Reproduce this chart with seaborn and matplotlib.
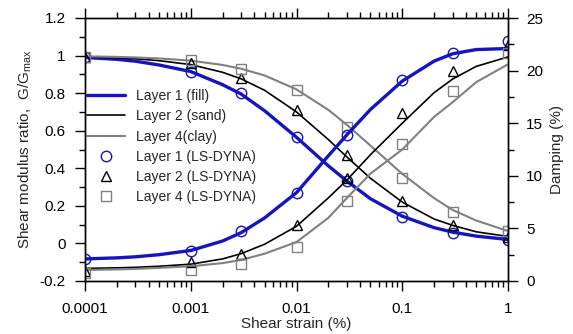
import numpy as np
import pandas as pd
import matplotlib
matplotlib.use('Agg')
import matplotlib.pyplot as plt
import matplotlib.ticker as mticker
import seaborn as sns

# fitted curves
strain_curve = [1e-4, 2e-4, 3e-4, 5e-4, 1e-3, 2e-3, 3e-3, 5e-3, 1e-2, 2e-2, 3e-2, 5e-2, 0.1, 0.2, 0.3, 0.5, 1]
g_layer1 = [0.990, 0.980, 0.970, 0.950, 0.915, 0.845, 0.795, 0.706, 0.565, 0.413, 0.332, 0.238, 0.145, 0.084, 0.060, 0.039, 0.021]
g_layer2 = [0.994, 0.988, 0.983, 0.973, 0.952, 0.911, 0.876, 0.815, 0.700, 0.553, 0.460, 0.347, 0.220, 0.130, 0.096, 0.062, 0.037]
g_layer4 = [0.996, 0.993, 0.990, 0.985, 0.973, 0.950, 0.930, 0.894, 0.820, 0.711, 0.631, 0.521, 0.370, 0.241, 0.178, 0.122, 0.066]
d_layer1 = [2.1, 2.2, 2.3, 2.5, 2.9, 3.8, 4.6, 6.0, 8.4, 11.9, 13.9, 16.3, 19.0, 20.9, 21.6, 22.0, 22.1]
d_layer2 = [1.2, 1.25, 1.3, 1.4, 1.6, 2.1, 2.6, 3.5, 5.2, 7.9, 9.6, 12.0, 15.0, 17.9, 19.2, 20.4, 21.3]
d_layer4 = [1.05, 1.1, 1.15, 1.25, 1.4, 1.7, 2.0, 2.6, 3.7, 6.0, 7.9, 10.2, 12.5, 15.6, 17.0, 18.9, 20.6]

# LS-DYNA results
strain_pts = [1e-4, 1e-3, 3e-3, 1e-2, 3e-2, 0.1, 0.3, 1]
g_pts_layer1 = [0.99, 0.91, 0.80, 0.565, 0.33, 0.14, 0.055, 0.018]
g_pts_layer2 = [0.99, 0.96, 0.88, 0.71, 0.47, 0.225, 0.10, 0.034]
g_pts_layer4 = [0.99, 0.976, 0.93, 0.815, 0.62, 0.35, 0.167, 0.066]
d_pts_layer1 = [2.1, 2.85, 4.75, 8.4, 13.9, 19.1, 21.7, 22.8]
d_pts_layer2 = [0.95, 1.8, 2.6, 5.3, 9.8, 16.0, 20.0, 22.4]
d_pts_layer4 = [0.75, 1.05, 1.6, 3.2, 7.6, 13.0, 18.1, 21.7]

x_ticks = [0.0001, 0.001, 0.01, 0.1, 1]

BLUE = '#1414c0'
BLACK = '#000000'
GRAY = '#808080'

sns.set_style('ticks')
plt.rcParams['font.family'] = ['Liberation Sans', 'DejaVu Sans']
plt.rcParams['mathtext.default'] = 'regular'

fig = plt.figure(figsize=(5.73, 3.34), dpi=100)
ax = fig.add_axes([85 / 573, 1 - 281 / 334, 423 / 573, 263 / 334])
ax2 = ax.twinx()

curves = [
    ('Layer 1 (fill)', g_layer1, d_layer1, BLUE, 2.4),
    ('Layer 2 (sand)', g_layer2, d_layer2, BLACK, 1.2),
    ('Layer 4(clay)', g_layer4, d_layer4, GRAY, 1.5),
]
for label, g_vals, d_vals, color, lw in curves:
    sns.lineplot(x=strain_curve, y=g_vals, ax=ax, color=color, lw=lw, label=label, sort=False)
    sns.lineplot(x=strain_curve, y=d_vals, ax=ax2, color=color, lw=lw, sort=False, legend=False)

points = [
    ('Layer 1 (LS-DYNA)', g_pts_layer1, d_pts_layer1, BLUE, 'o', 7.5),
    ('Layer 2 (LS-DYNA)', g_pts_layer2, d_pts_layer2, BLACK, '^', 7),
    ('Layer 4 (LS-DYNA)', g_pts_layer4, d_pts_layer4, GRAY, 's', 7.5),
]
for label, g_vals, d_vals, color, mk, ms in points:
    sns.lineplot(x=strain_pts, y=g_vals, ax=ax, color=color, marker=mk, linestyle='',
                 markersize=ms, markerfacecolor='none', markeredgecolor=color,
                 markeredgewidth=1.0, label=label, sort=False)
    sns.lineplot(x=strain_pts, y=d_vals, ax=ax2, color=color, marker=mk, linestyle='',
                 markersize=ms, markerfacecolor='none', markeredgecolor=color,
                 markeredgewidth=1.0, sort=False, legend=False)

ax.set_xscale('log')
ax.set_xlim(1e-4, 1)
ax.set_ylim(-0.2, 1.2)
ax2.set_ylim(0, 25)

ax.set_xticks(x_ticks)
ax.xaxis.set_major_formatter(mticker.FuncFormatter(lambda v, p: '%g' % v))
ax.xaxis.set_minor_locator(mticker.LogLocator(base=10, subs=np.arange(2, 10), numticks=20))
ax.xaxis.set_minor_formatter(mticker.NullFormatter())
ax.yaxis.set_major_locator(mticker.MultipleLocator(0.2))
ax.yaxis.set_minor_locator(mticker.MultipleLocator(0.1))
ax.yaxis.set_major_formatter(mticker.FuncFormatter(lambda v, p: '%g' % round(v, 2)))
ax2.yaxis.set_major_locator(mticker.MultipleLocator(5))
ax2.yaxis.set_minor_locator(mticker.MultipleLocator(2.5))

for a in (ax, ax2):
    for s in a.spines.values():
        s.set_visible(True)
        s.set_linewidth(1.0)
        s.set_color('black')
ax.tick_params(which='both', direction='out', top=True, right=False, colors='black', labelsize=11, width=1.0)
ax.tick_params(which='major', length=7)
ax.tick_params(which='minor', length=4)
ax.tick_params(axis='x', which='major', pad=8)
ax.tick_params(axis='y', which='major', pad=7)
ax2.tick_params(which='both', direction='out', colors='black', labelsize=11, width=1.0)
ax2.tick_params(which='major', length=7, pad=6)
ax2.tick_params(which='minor', length=4)

ax.set_xlabel('Shear strain (%)', fontsize=11, labelpad=1)
ax.set_ylabel('Shear modulus ratio,  G/G$_{max}$', fontsize=11, labelpad=4)
ax2.set_ylabel('Damping (%)', fontsize=11, labelpad=5)

ax.legend(loc='upper left', bbox_to_anchor=(0.005, 0.73), frameon=False, fontsize=10,
          handlelength=2.7, handletextpad=0.8, labelspacing=0.45, borderpad=0, borderaxespad=0)

fig.savefig('out.png', dpi=100)
plt.close(fig)
